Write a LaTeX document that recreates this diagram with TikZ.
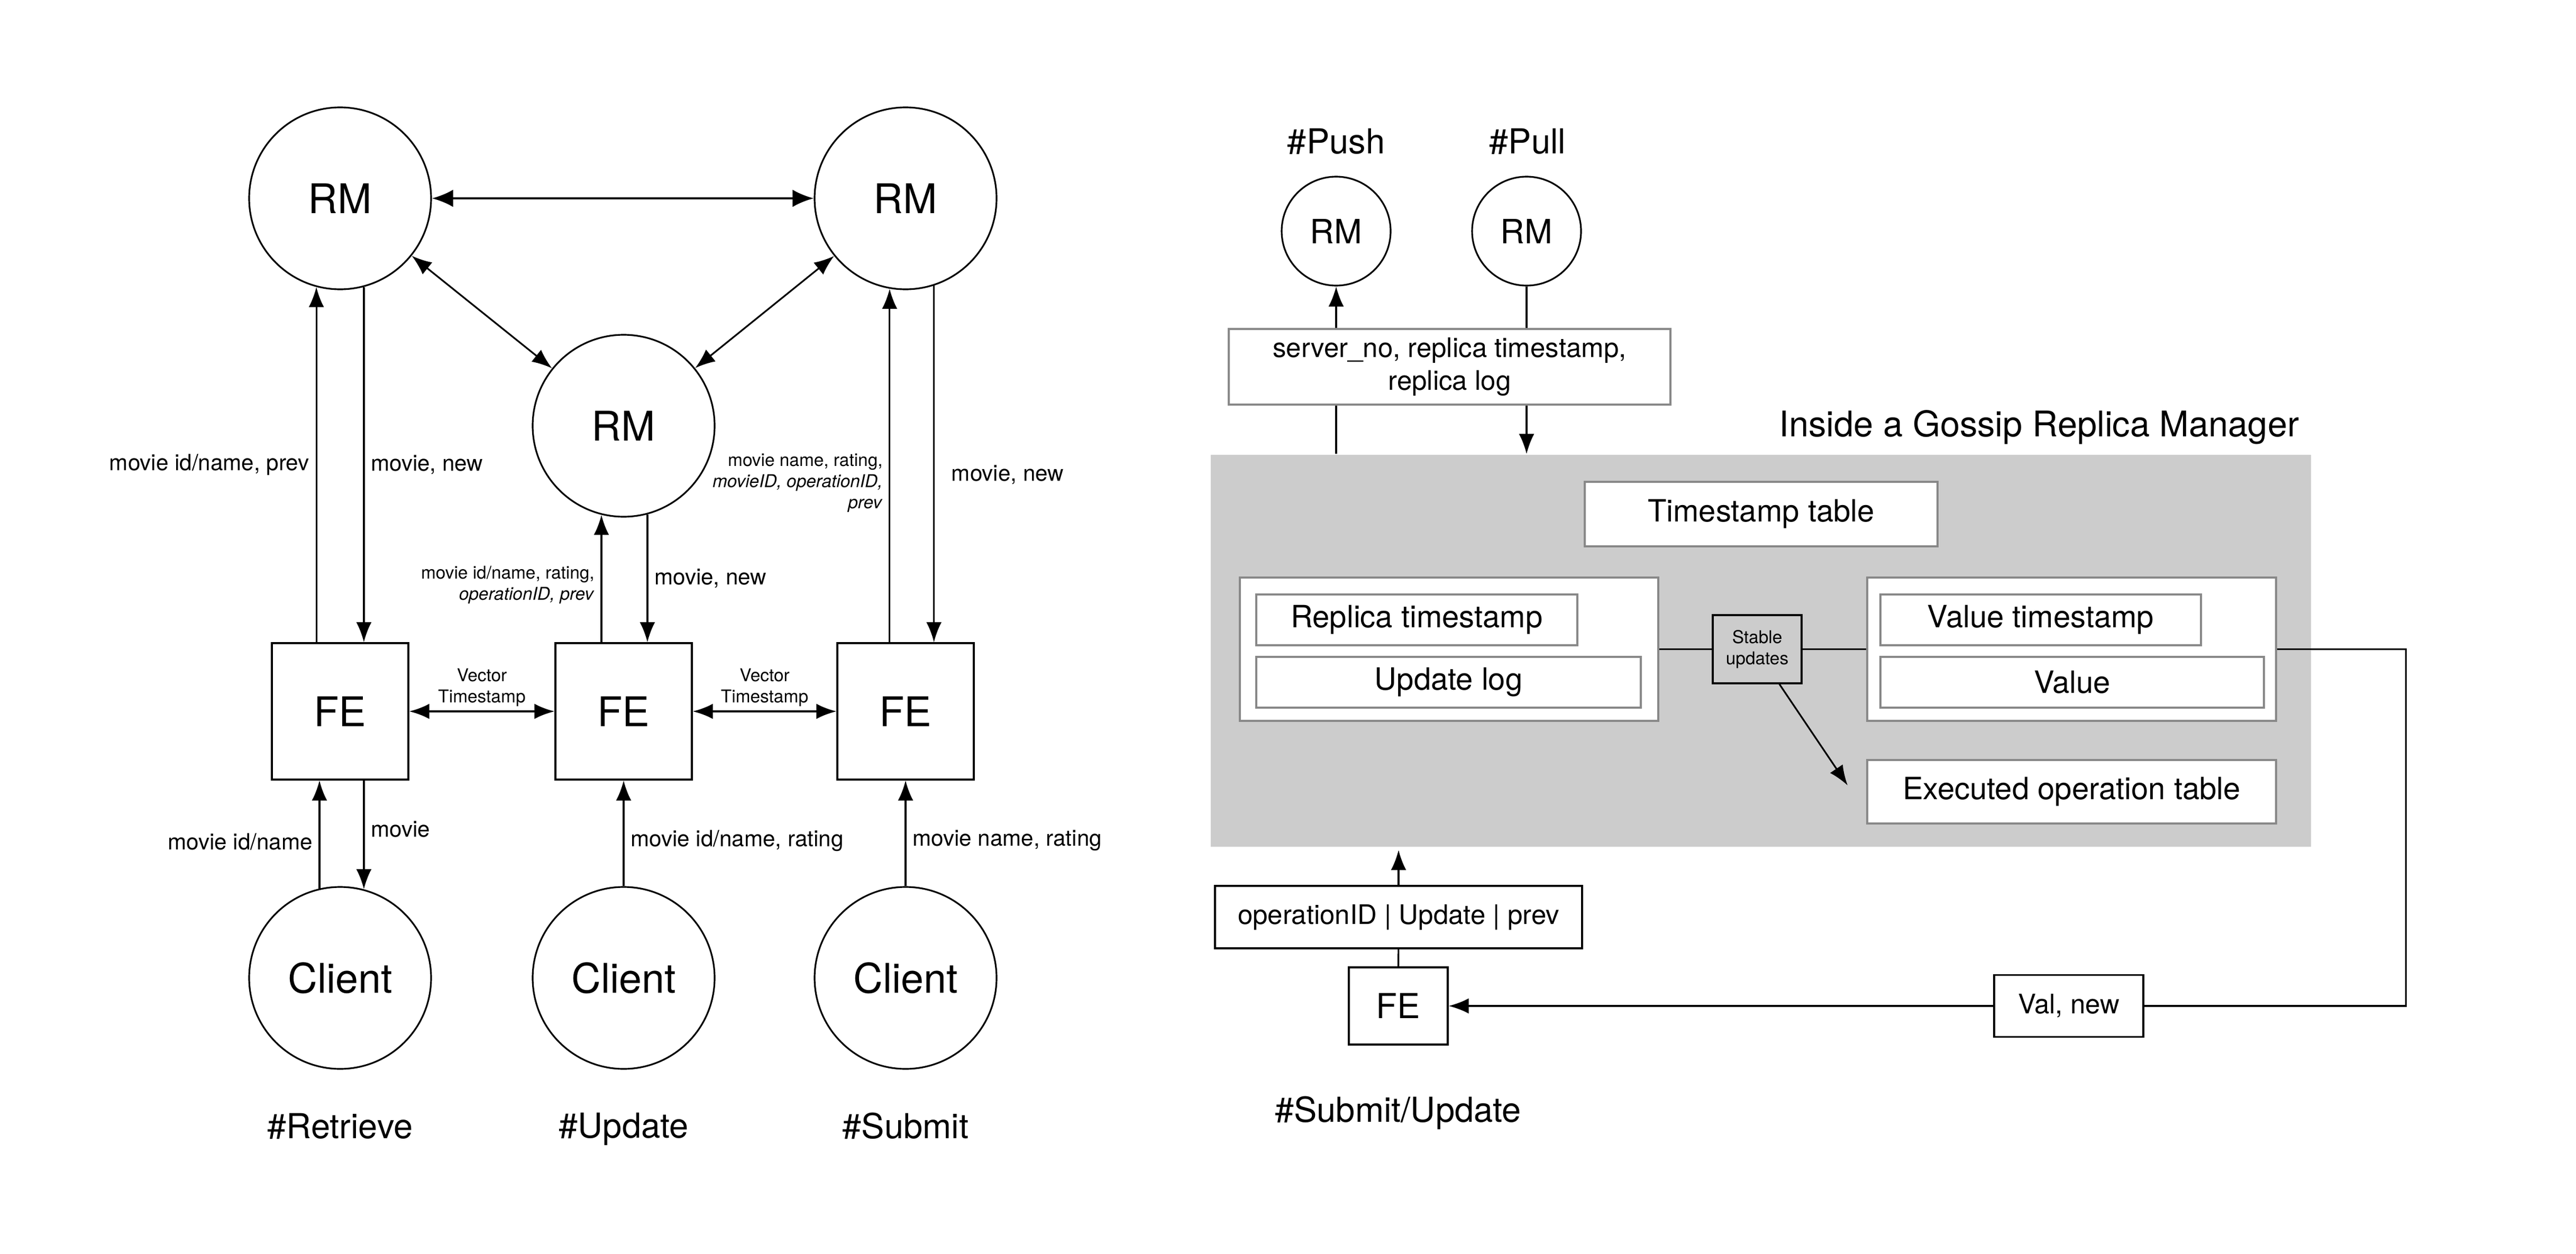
\documentclass[tikz,border=0pt]{standalone}
\usepackage{fontspec}
\setmainfont{TeX Gyre Heros}
\usetikzlibrary{arrows.meta,positioning}

\definecolor{rmgray}{HTML}{CCCCCC}
\definecolor{boxgray}{HTML}{888888}

\begin{document}
\begin{tikzpicture}[line width=0.9pt,>={Latex[length=3.8mm,width=2.9mm]},
  bigfont/.style={font=\fontsize{22}{26}\selectfont},
  tagfont/.style={font=\fontsize{18.5}{22}\selectfont},
  lab/.style={font=\fontsize{12}{14}\selectfont},
  smalllab/.style={font=\fontsize{9.5}{11.4}\selectfont},
  midlab/.style={font=\fontsize{14.5}{17.5}\selectfont},
  inlab/.style={font=\fontsize{16.5}{20}\selectfont},
  rmnode/.style={draw,circle,minimum size=3.44cm,inner sep=0pt,bigfont},
  fenode/.style={draw,rectangle,minimum size=2.58cm,inner sep=0pt,bigfont},
  smallrm/.style={draw,circle,minimum size=2.06cm,inner sep=0pt,font=\fontsize{18}{22}\selectfont},
  graybox/.style={draw=boxgray,fill=white,inner sep=0pt},
  blackbox/.style={draw,fill=white,inner sep=0pt}]

\useasboundingbox (0,0) rectangle (48.7,-23.7);

% left: three RMs, FEs and clients
\node[rmnode] (rm1) at (6.43,-3.75) {RM};
\node[rmnode] (rm2) at (17.12,-3.75) {RM};
\node[rmnode] (rm3) at (11.79,-8.05) {RM};

\node[fenode] (fe1) at (6.43,-13.45) {FE};
\node[fenode] (fe2) at (11.79,-13.45) {FE};
\node[fenode] (fe3) at (17.12,-13.45) {FE};

\node[rmnode] (cl1) at (6.43,-18.49) {Client};
\node[rmnode] (cl2) at (11.79,-18.49) {Client};
\node[rmnode] (cl3) at (17.12,-18.49) {Client};

\node[tagfont] (tagret) at (6.43,-21.29) {\#Retrieve};
\node[tagfont] (tagupd) at (11.79,-21.35) {\#Update};
\node[tagfont] (tagsub) at (17.12,-21.29) {\#Submit};

\draw[<->,line width=1.2pt,>={Latex[length=4mm,width=3.3mm]}] (rm1) -- (rm2);
\draw[<->] (rm1) -- (rm3);
\draw[<->] (rm2) -- (rm3);

\draw[->] (rm1.255 |- fe1.north) -- node[midway,left,lab]{movie id/name, prev} (rm1.255);
\draw[->] (rm1.285) -- node[midway,right,lab]{movie, new} (rm1.285 |- fe1.north);

\draw[->] (rm3.256 |- fe2.north) -- node[pos=0.45,left,smalllab,align=right]{movie id/name, rating,\\\textit{operationID, prev}} (rm3.256);
\draw[->] (rm3.285) -- node[midway,right,lab]{movie, new} (rm3.285 |- fe2.north);

\draw[->] (rm2.260 |- fe3.north) -- node[pos=0.45,left,smalllab,align=right]{movie name, rating,\\\textit{movieID, operationID,}\\\textit{prev}} (rm2.260);
\draw[->] (rm2.288) -- node[pos=0.53,right,lab,xshift=2mm]{movie, new} (rm2.288 |- fe3.north);

\draw[<->,line width=1.1pt] (fe1) -- node[above,smalllab,align=center,inner sep=2pt]{Vector\\Timestamp} (fe2);
\draw[<->,line width=1.1pt] (fe2) -- node[above,smalllab,align=center,inner sep=2pt]{Vector\\Timestamp} (fe3);

\draw[->] (cl1.103) -- node[pos=0.43,left,lab]{movie id/name} (cl1.103 |- fe1.south);
\draw[->] (cl1.75 |- fe1.south) -- node[pos=0.45,right,lab]{movie} (cl1.75);
\draw[->] (cl2) -- node[pos=0.43,right,lab]{movie id/name, rating} (fe2);
\draw[->] (cl3) -- node[pos=0.43,right,lab]{movie name, rating} (fe3);

% right: inside a gossip replica manager
\node[tagfont] (tagpush) at (25.26,-2.67) {\#Push};
\node[tagfont] (tagpull) at (28.88,-2.67) {\#Pull};
\node[smallrm] (rmpush) at (25.26,-4.37) {RM};
\node[smallrm] (rmpull) at (28.86,-4.37) {RM};

\node[graybox,minimum width=8.35cm,minimum height=1.43cm,midlab,align=center] (gossip) at (27.405,-6.935) {server\_no, replica timestamp,\\replica log};

\node[fill=rmgray,minimum width=20.8cm,minimum height=7.41cm,inner sep=0pt] (inside) at (33.29,-12.305) {};
\node[font=\fontsize{19}{23}\selectfont] (title) at (38.55,-8.08) {Inside a Gossip Replica Manager};

\draw[->] (rmpush.south |- gossip.north) -- (rmpush.south);
\draw (rmpush.south |- inside.north) -- (rmpush.south |- gossip.south);
\draw (rmpull.south) -- (rmpull.south |- gossip.north);
\draw[->] (rmpull.south |- gossip.south) -- (rmpull.south |- inside.north);

\node[graybox,minimum width=6.67cm,minimum height=1.22cm,inlab] (tstable) at (33.295,-9.72) {Timestamp table};

\node[graybox,minimum width=7.91cm,minimum height=2.71cm] (leftbox) at (27.395,-12.275) {};
\node[graybox,minimum width=6.07cm,minimum height=0.96cm,inlab] (repts) at (26.785,-11.72) {Replica timestamp};
\node[graybox,minimum width=7.27cm,minimum height=0.96cm,inlab] (ulog) at (27.385,-12.90) {Update log};

\node[graybox,minimum width=7.73cm,minimum height=2.71cm] (rightbox) at (39.165,-12.275) {};
\node[graybox,minimum width=6.06cm,minimum height=0.96cm,inlab] (valts) at (38.58,-11.72) {Value timestamp};
\node[graybox,minimum width=7.25cm,minimum height=0.96cm,inlab] (val) at (39.175,-12.90) {Value};

\node[graybox,minimum width=7.73cm,minimum height=1.20cm,inlab] (exec) at (39.165,-14.97) {Executed operation table};

\node[draw,fill=rmgray,minimum width=1.68cm,minimum height=1.29cm,inner sep=0pt,smalllab,align=center] (stable) at (33.22,-12.275) {Stable\\updates};

\draw (leftbox) -- (stable);
\draw (stable) -- (rightbox);
\coordinate (exectip) at (34.93,-14.85);
\draw[->] ([xshift=4.2mm]stable.south) -- (exectip);

% front end below
\node[blackbox,minimum width=6.94cm,minimum height=1.18cm,midlab] (opbox) at (26.44,-17.34) {operationID | Update | prev};
\node[blackbox,minimum width=1.87cm,minimum height=1.46cm,font=\fontsize{18.5}{22}\selectfont] (fe4) at (26.435,-19.02) {FE};
\node[blackbox,minimum width=2.82cm,minimum height=1.17cm,midlab] (valnew) at (39.11,-19.02) {Val, new};
\node[tagfont] (tagsubupd) at (26.43,-21.04) {\#Submit/Update};

\coordinate (optip) at (26.44,-16.07);
\draw (fe4) -- (opbox);
\draw[->] (opbox.north) -- (optip);

\draw (rightbox.east) -- ++(2.44,0) |- (valnew.east);
\draw[->] (valnew) -- (fe4);

\end{tikzpicture}
\end{document}
